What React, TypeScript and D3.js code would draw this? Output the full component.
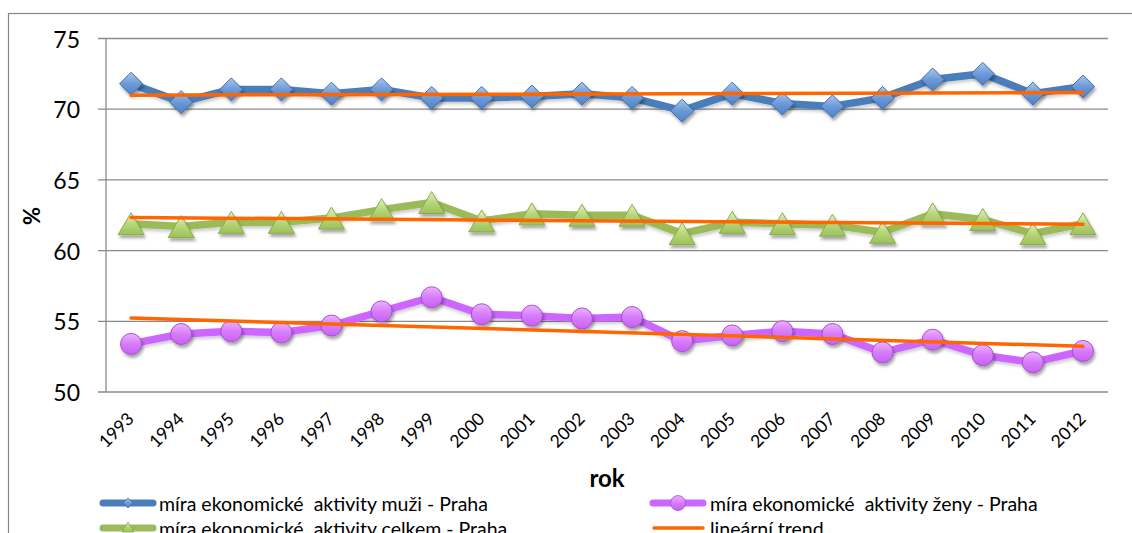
import React from "react";
import * as d3 from "d3";

const years = ["1993","1994","1995","1996","1997","1998","1999","2000","2001","2002","2003","2004","2005","2006","2007","2008","2009","2010","2011","2012"];
const men = [71.8, 70.5, 71.4, 71.4, 71.1, 71.4, 70.8, 70.8, 70.9, 71.1, 70.8, 69.9, 71.1, 70.4, 70.2, 70.8, 72.1, 72.5, 71.1, 71.6];
const women = [53.4, 54.1, 54.3, 54.2, 54.7, 55.7, 56.7, 55.5, 55.4, 55.2, 55.3, 53.6, 54.0, 54.3, 54.1, 52.8, 53.7, 52.6, 52.1, 52.9];
const total = [61.9, 61.7, 62.0, 62.0, 62.3, 62.9, 63.4, 62.1, 62.6, 62.5, 62.5, 61.2, 62.0, 61.9, 61.8, 61.3, 62.6, 62.2, 61.2, 61.9];
const yTicks = [50, 55, 60, 65, 70, 75];
const legendLabels = [
  "míra ekonomické  aktivity muži - Praha",
  "míra ekonomické  aktivity ženy - Praha",
  "míra ekonomické  aktivity celkem - Praha",
  "lineární trend",
];
const yTitle = "%";
const xTitle = "rok";

const W = 1132, H = 533;
const FONT = "Lato, 'Open Sans', sans-serif";

function linReg(vals: number[]) {
  const n = vals.length;
  const xs = vals.map((_, i) => i);
  const mx = d3.mean(xs)!;
  const my = d3.mean(vals)!;
  let sxy = 0, sxx = 0;
  xs.forEach((x, i) => { sxy += (x - mx) * (vals[i] - my); sxx += (x - mx) * (x - mx); });
  const b = sxy / sxx;
  const a = my - b * mx;
  return [a, a + b * (n - 1)];
}

export default function App() {
  const x = d3.scaleBand<string>().domain(years).range([106, 1108]);
  const cx = (yr: string) => x(yr)! + x.bandwidth() / 2;
  const y = d3.scaleLinear().domain([50, 75]).range([392, 38.5]);

  const line = d3.line<number>().x((_, i) => cx(years[i])).y((v) => y(v));

  const trends = [men, total, women].map((s) => linReg(s));

  const diamond = (px: number, py: number, r: number) =>
    `M${px},${py - r}L${px + r},${py}L${px},${py + r}L${px - r},${py}Z`;
  const triangle = (px: number, py: number, w: number, h: number) =>
    `M${px},${py - h / 2}L${px + w / 2},${py + h / 2}L${px - w / 2},${py + h / 2}Z`;

  return (
    <svg width={W} height={H} style={{ position: "absolute", left: 0, top: 0, background: "#fff" }} fontFamily={FONT}>
      <defs>
        <linearGradient id="gBlue" x1="0" y1="0" x2="0" y2="1">
          <stop offset="0" stopColor="#a9c6ee" />
          <stop offset="0.5" stopColor="#6c9ad8" />
          <stop offset="1" stopColor="#4f81c7" />
        </linearGradient>
        <linearGradient id="gGreen" x1="0" y1="0" x2="0" y2="1">
          <stop offset="0" stopColor="#e4f2c4" />
          <stop offset="0.5" stopColor="#b8d67a" />
          <stop offset="1" stopColor="#9bc15a" />
        </linearGradient>
        <linearGradient id="gPurple" x1="0" y1="0" x2="0" y2="1">
          <stop offset="0" stopColor="#eeb2ff" />
          <stop offset="0.5" stopColor="#d77cfb" />
          <stop offset="1" stopColor="#c761f2" />
        </linearGradient>
        <filter id="shadow" x="-50%" y="-50%" width="200%" height="200%">
          <feDropShadow dx="1.5" dy="3" stdDeviation="1.6" floodColor="#000" floodOpacity="0.35" />
        </filter>
        <filter id="lshadow" x="-5%" y="-50%" width="110%" height="200%">
          <feDropShadow dx="1" dy="2.5" stdDeviation="1.5" floodColor="#000" floodOpacity="0.2" />
        </filter>
      </defs>

      {/* outer border */}
      <rect x={8.5} y={13.5} width={1140} height={540} fill="none" stroke="#868686" strokeWidth={1.2} />

      {/* gridlines and ticks */}
      {yTicks.map((t) => (
        <g key={t}>
          <line x1={98} x2={1108} y1={y(t)} y2={y(t)} stroke="#8a8a8a" strokeWidth={1.3} />
          <text x={80} y={y(t)} textAnchor="end" dominantBaseline="central" fontSize={23} fill="#000">{t}</text>
        </g>
      ))}
      <line x1={106} x2={106} y1={y(75)} y2={y(50)} stroke="#8a8a8a" strokeWidth={1.3} />

      {/* x labels */}
      {years.map((yr) => (
        <text key={yr} transform={`translate(${cx(yr) + 4},420) rotate(-45)`} textAnchor="end" fontSize={17.5} fill="#000">{yr}</text>
      ))}

      {/* axis titles */}
      <text transform="translate(31,216) rotate(-90)" textAnchor="middle" dominantBaseline="central" fontSize={22} fontWeight="bold">{yTitle}</text>
      <text x={607} y={487} textAnchor="middle" fontSize={24} fontWeight="bold">{xTitle}</text>

      {/* series lines */}
      <g filter="url(#lshadow)">
        <path d={line(men)!} fill="none" stroke="#4a7ebb" strokeWidth={7.5} strokeLinejoin="round" />
        <path d={line(total)!} fill="none" stroke="#9bbb59" strokeWidth={7.5} strokeLinejoin="round" />
        <path d={line(women)!} fill="none" stroke="#cc66ff" strokeWidth={7.5} strokeLinejoin="round" />
      </g>

      {/* markers */}
      <g filter="url(#shadow)">
        {men.map((v, i) => (
          <path key={"m" + i} d={diamond(cx(years[i]), y(v), 11.5)} fill="url(#gBlue)" stroke="#3d6eb0" strokeWidth={1} />
        ))}
        {total.map((v, i) => (
          <path key={"t" + i} d={triangle(cx(years[i]), y(v), 26, 22)} fill="url(#gGreen)" stroke="#8aad4a" strokeWidth={1} />
        ))}
        {women.map((v, i) => (
          <circle key={"w" + i} cx={cx(years[i])} cy={y(v)} r={10.5} fill="url(#gPurple)" stroke="#a54fd0" strokeWidth={1} />
        ))}
      </g>

      {/* trend lines */}
      {trends.map((tr, i) => (
        <line key={"tr" + i} x1={cx(years[0])} x2={cx(years[years.length - 1])} y1={y(tr[0])} y2={y(tr[1])} stroke="#ff6600" strokeWidth={3.5} strokeLinecap="round" />
      ))}

      {/* legend */}
      <g fontSize={19.5} fill="#000" style={{ whiteSpace: "pre" }}>
        <line x1={103} x2={153} y1={503} y2={503} stroke="#4a7ebb" strokeWidth={7} strokeLinecap="round" />
        <path d={diamond(128, 503, 5)} fill="url(#gBlue)" stroke="#3d6eb0" strokeWidth={0.8} />
        <text x={159} y={503} dominantBaseline="central" xmlSpace="preserve">{legendLabels[0]}</text>

        <line x1={653} x2={703} y1={503} y2={503} stroke="#cc66ff" strokeWidth={7} strokeLinecap="round" />
        <circle cx={678} cy={503} r={7.5} fill="url(#gPurple)" stroke="#a54fd0" strokeWidth={0.8} />
        <text x={710} y={503} dominantBaseline="central" xmlSpace="preserve">{legendLabels[1]}</text>

        <line x1={103} x2={153} y1={528} y2={528} stroke="#9bbb59" strokeWidth={7} strokeLinecap="round" />
        <path d={triangle(128, 527, 12, 10)} fill="url(#gGreen)" stroke="#8aad4a" strokeWidth={0.8} />
        <text x={159} y={528} dominantBaseline="central" xmlSpace="preserve">{legendLabels[2]}</text>

        <line x1={654} x2={703} y1={528} y2={528} stroke="#ff6600" strokeWidth={3.5} strokeLinecap="round" />
        <text x={710} y={528} dominantBaseline="central" xmlSpace="preserve">{legendLabels[3]}</text>
      </g>
    </svg>
  );
}
